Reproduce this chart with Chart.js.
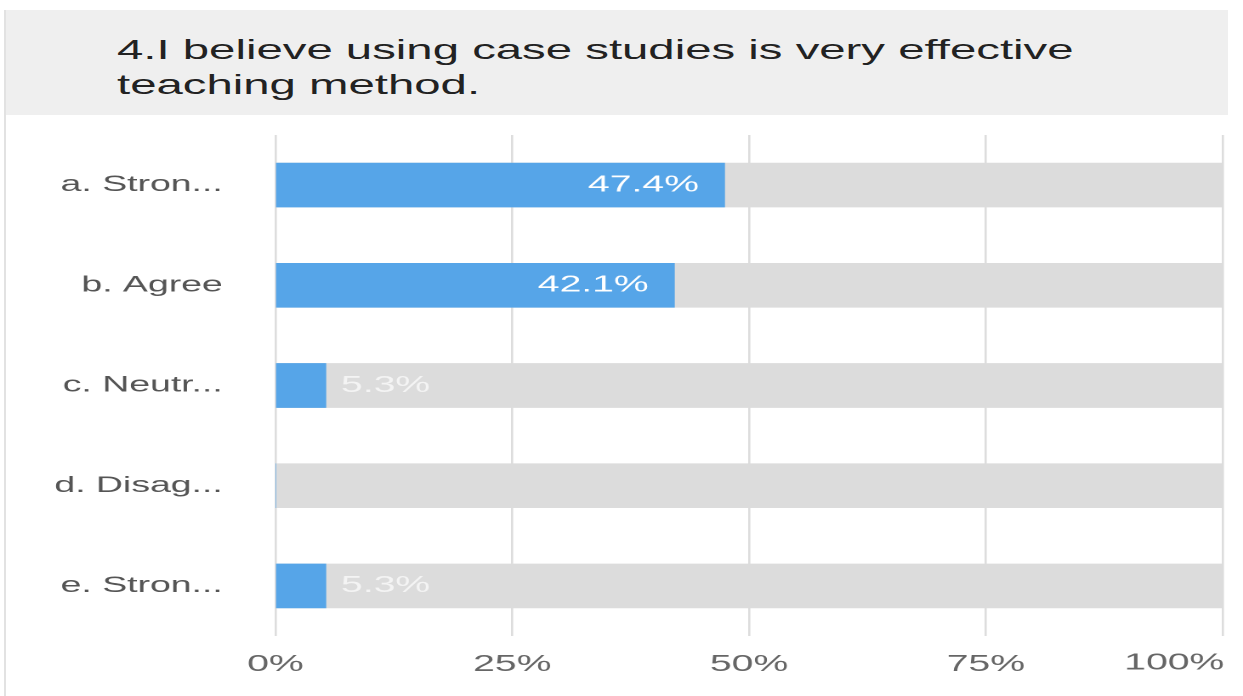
<!DOCTYPE html>
<html>
<head>
<meta charset="utf-8">
<script src="https://cdn.jsdelivr.net/npm/chart.js@4"></script>
<style>
  body { margin: 0; background: #fff; width: 1243px; height: 696px; overflow: hidden; position: relative; }
  #frame { position: absolute; left: 4px; top: 10px; width: 1224px; height: 686px; border-left: 2px solid #e2e2e2; }
  #title {
    position: absolute; left: 6px; top: 10px; width: 1222px; height: 105px;
    background: #efefef; box-sizing: border-box; padding: 22px 0 0 111px;
  }
  #title span {
    display: inline-block; transform: scaleX(1.69); transform-origin: left top; white-space: nowrap;
    font-family: "Liberation Sans", Arial, sans-serif; font-size: 28px; line-height: 35px; color: #222;
  }
  /* the reference is stretched sideways, so the chart is drawn narrow and widened */
  #wrap { position: absolute; left: 0; top: 115px; width: 731px; height: 581px; transform: scaleX(1.7004); transform-origin: left top; }
</style>
</head>
<body>
<div id="frame"></div>
<div id="title"><span>4.I believe using case studies is very effective<br>teaching method.</span></div>
<div id="wrap"><canvas id="myChart"></canvas></div>
<script>
let categories = ["a. Stron...", "b. Agree", "c. Neutr...", "d. Disag...", "e. Stron..."];
let percents = [47.4, 42.1, 5.3, 0, 5.3];
let totals = [100, 100, 100, 100, 100];
let xTicks = [0, 25, 50, 75, 100];

let labelFont = "'Liberation Sans', Arial, sans-serif";

// percentage text on each blue bar, plus the last x tick kept inside the edge
const barLabels = {
  id: "barLabels",
  afterDatasetsDraw(chart) {
    let ctx = chart.ctx;
    let meta = chart.getDatasetMeta(1);
    ctx.save();
    ctx.font = "23px " + labelFont;
    ctx.textBaseline = "middle";
    meta.data.forEach((bar, i) => {
      let v = percents[i];
      if (!v) return;
      let text = v.toFixed(1) + "%";
      let w = ctx.measureText(text).width;
      if (bar.x - bar.base > w + 30) {
        ctx.fillStyle = "#ffffff";
        ctx.textAlign = "right";
        ctx.fillText(text, bar.x - 15, bar.y);
      } else {
        ctx.fillStyle = "#f4f4f4";
        ctx.textAlign = "left";
        ctx.fillText(text, bar.x + 9, bar.y);
      }
    });
    let xs = chart.scales.x;
    let last = xTicks[xTicks.length - 1];
    ctx.fillStyle = "#666";
    ctx.textAlign = "right";
    ctx.fillText(last + "%", xs.getPixelForValue(last) + 1, chart.chartArea.bottom + 27);
    ctx.restore();
  }
};

let ctx = document.getElementById("myChart").getContext("2d");
let myChart = new Chart(ctx, {
  type: "bar",
  data: {
    labels: categories,
    datasets: [
      {
        label: "total",
        data: totals,
        backgroundColor: "#dcdcdc",
        barThickness: 44,
        grouped: false,
        order: 2
      },
      {
        label: "answers",
        data: percents,
        backgroundColor: "#56a5e8",
        barThickness: 44,
        grouped: false,
        order: 1
      }
    ]
  },
  options: {
    indexAxis: "y",
    responsive: true,
    maintainAspectRatio: false,
    animation: false,
    devicePixelRatio: 2,
    layout: { padding: { left: 0, right: 12, top: 20, bottom: 0 } },
    plugins: { legend: { display: false }, tooltip: { enabled: false } },
    scales: {
      x: {
        min: 0,
        max: 100,
        afterBuildTicks: scale => { scale.ticks = xTicks.map(v => ({ value: v })); },
        afterFit: scale => {
          scale.height = 60;
          scale.paddingLeft = 0; scale.paddingRight = 0;
          scale.paddingTop = 0; scale.paddingBottom = 0;
        },
        grid: { color: "#dddddd", lineWidth: 1.3, drawTicks: false },
        border: { display: false },
        ticks: {
          padding: 15,
          maxRotation: 0,
          autoSkip: false,
          color: "#666",
          font: { family: labelFont, size: 23 },
          callback: v => v === xTicks[xTicks.length - 1] ? "" : v + "%"
        }
      },
      y: {
        grid: { display: false },
        border: { display: false },
        afterFit: scale => {
          scale.width = 162;
          scale.paddingTop = 0; scale.paddingBottom = 0;
        },
        ticks: {
          padding: 23,
          color: "#555",
          font: { family: labelFont, size: 22 }
        }
      }
    }
  },
  plugins: [barLabels]
});
</script>
</body>
</html>
